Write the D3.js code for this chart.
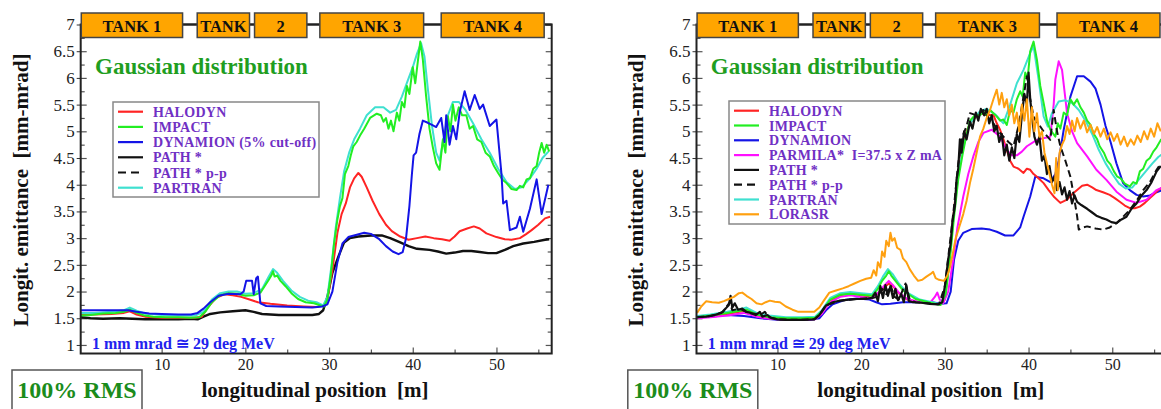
<!DOCTYPE html>
<html><head><meta charset="utf-8">
<script src="https://cdn.jsdelivr.net/npm/d3@7"></script>
<style>
body{margin:0;background:#fff}
svg{display:block}
text{font-family:"Liberation Serif","Times New Roman",serif}
</style>
</head><body><svg id="c" width="1161" height="409"></svg>
<script>
// ---------- data ----------
const X_TICKS = [10, 20, 30, 40, 50];
const X_MINOR = [5, 15, 25, 35, 45, 55];
const Y_TICKS = [1, 1.5, 2, 2.5, 3, 3.5, 4, 4.5, 5, 5.5, 6, 6.5, 7];
const Y_MINOR = [1.25, 1.75, 2.25, 2.75, 3.25, 3.75, 4.25, 4.75, 5.25, 5.75, 6.25, 6.75];
const TANK_LABELS = ["TANK 1", "TANK", "2", "TANK 3", "TANK 4"];
const TANK_START = [0.4, 14.25, 21.1, 28.9, 43.4];
const TANK_END = [12.5, 20.5, 27.35, 41.3, 55.7];

const LEFT_NAMES = ["HALODYN", "IMPACT", "DYNAMION (5% cut-off)", "PATH *", "PATH * p-p", "PARTRAN"];
const RIGHT_NAMES = ["HALODYN", "IMPACT", "DYNAMION", "PARMILA*  I=37.5 x Z mA", "PATH *", "PATH * p-p", "PARTRAN", "LORASR"];

const L_HALODYN = [[0.3,1.56],[2,1.57],[4,1.58],[5.5,1.6],[6.2,1.63],[7,1.57],[8,1.53],[10,1.51],[12,1.51],[14,1.51],[14.8,1.53],[15.5,1.7],[16.5,1.88],[17.5,1.95],[18.5,1.93],[19.5,1.9],[20.5,1.85],[21.5,1.8],[23,1.77],[25,1.74],[27,1.72],[28.5,1.71],[29.3,1.74],[29.8,1.85],[30.4,2.4],[31,3.1],[31.5,3.45],[32,3.65],[32.5,3.95],[33,4.12],[33.5,4.22],[33.9,4.15],[34.5,3.95],[35.2,3.7],[36,3.45],[36.8,3.25],[37.5,3.13],[38.5,3.03],[39.5,2.97],[40.5,3.0],[41.5,3.03],[42.5,3.0],[43.5,2.98],[44.4,2.95],[45,3.03],[45.6,3.13],[46.5,3.18],[47.3,3.22],[48,3.18],[48.8,3.09],[50,3.02],[51,2.98],[51.8,2.97],[52.8,3.0],[53.5,3.07],[54.2,3.15],[55,3.25],[55.8,3.37],[56.4,3.4]];
const L_IMPACT = [[0.3,1.55],[1.5,1.56],[3,1.59],[4.5,1.6],[5.5,1.62],[6.2,1.66],[7,1.6],[8,1.55],[9,1.53],[10.5,1.52],[12,1.52],[13.5,1.51],[14.5,1.52],[15.2,1.62],[16,1.8],[17,1.93],[18,1.97],[19,1.96],[20,1.92],[21,1.93],[21.8,1.98],[22.3,2.1],[22.8,2.22],[23.1,2.3],[23.3,2.38],[23.5,2.28],[23.8,2.3],[24.2,2.2],[24.8,2.1],[25.5,1.97],[26.3,1.86],[27.2,1.8],[28.2,1.78],[29,1.74],[29.4,1.72],[29.8,1.85],[30.2,2.3],[30.6,2.9],[31,3.35],[31.3,3.6],[31.6,3.75],[31.9,4.2],[32.3,4.35],[32.6,4.55],[32.9,4.72],[33.3,4.8],[33.7,4.92],[34.2,5.05],[34.9,5.25],[35.7,5.33],[36.2,5.3],[36.5,5.18],[36.8,5.25],[37.1,5.05],[37.4,5.2],[37.7,5.0],[38.1,5.35],[38.4,5.2],[38.7,5.55],[39.0,5.45],[39.3,5.85],[39.6,5.7],[40.0,6.2],[40.3,5.9],[40.6,6.3],[40.9,6.68],[41.2,6.35],[41.6,5.65],[42.0,5.05],[42.4,4.7],[42.8,4.4],[43.2,4.28],[43.6,4.85],[43.9,4.6],[44.2,5.28],[44.5,5.0],[44.8,5.5],[45.1,5.2],[45.5,5.45],[45.9,5.3],[46.4,5.3],[46.8,5.05],[47.2,5.1],[47.7,4.85],[48.2,4.8],[48.7,4.6],[49.2,4.53],[49.7,4.35],[50.2,4.22],[50.7,4.1],[51.2,4.03],[51.8,3.92],[52.4,3.9],[52.8,3.98],[53.2,3.95],[53.6,4.1],[54.0,4.12],[54.4,4.3],[54.8,4.35],[55.1,4.6],[55.4,4.78],[55.7,4.6],[56.0,4.75],[56.3,4.62]];
const L_DYNAMION = [[0.3,1.65],[2,1.65],[4,1.65],[6,1.65],[7,1.62],[8.5,1.59],[10,1.58],[12,1.57],[13.5,1.57],[14.3,1.6],[15,1.68],[15.8,1.8],[16.8,1.92],[18,1.96],[19.4,1.95],[19.8,2.0],[20.1,2.2],[20.8,2.2],[21.0,1.95],[21.3,2.25],[21.5,2.28],[21.8,1.78],[22.5,1.73],[24,1.72],[26,1.71],[28,1.7],[29.2,1.72],[29.8,1.76],[30.4,2.0],[31,2.55],[31.6,2.9],[32.3,3.02],[33.2,3.06],[34.2,3.1],[35,3.08],[36,2.98],[36.8,2.85],[37.6,2.75],[38.3,2.7],[38.8,2.74],[39.2,3.0],[39.6,3.6],[39.9,4.2],[40.1,4.55],[40.4,4.6],[40.8,4.95],[41.2,5.2],[41.8,5.16],[42.3,5.12],[42.8,5.08],[43.4,5.25],[43.8,4.8],[44.0,5.3],[44.4,4.75],[44.8,5.1],[45.2,4.85],[45.6,5.35],[46.2,5.75],[46.8,5.4],[47.4,5.68],[48.0,5.42],[48.4,5.5],[49.2,5.1],[50.0,5.22],[50.6,4.2],[50.8,3.65],[51.2,3.7],[51.6,3.15],[52.4,3.2],[52.8,3.4],[53.2,3.12],[54.0,3.55],[54.8,4.1],[55.4,3.45],[56.2,4.0]];
const L_PATH = [[0.3,1.52],[1.5,1.5],[3,1.49],[5,1.5],[6.5,1.49],[8,1.48],[10,1.48],[12,1.48],[13.5,1.49],[14.3,1.48],[15,1.53],[15.8,1.58],[17,1.61],[18.5,1.63],[20,1.65],[21,1.62],[22,1.58],[24,1.56],[26,1.56],[28,1.56],[28.8,1.58],[29.3,1.65],[29.8,1.9],[30.4,2.35],[31.1,2.65],[31.8,2.92],[32.5,3.0],[33.5,3.03],[35,3.05],[36.3,3.05],[37.3,3.0],[38.5,2.92],[39.5,2.85],[40.5,2.8],[42,2.78],[43,2.75],[44,2.71],[45,2.73],[46,2.76],[47,2.76],[48,2.74],[49,2.72],[50,2.72],[51,2.78],[52,2.85],[53.2,2.9],[54.5,2.93],[55.8,2.97],[56.3,2.98]];
const L_PARTRAN = [[0.3,1.6],[2,1.6],[4,1.62],[5.5,1.65],[6.2,1.7],[7,1.64],[8,1.59],[10,1.56],[12,1.55],[14,1.55],[15,1.62],[16,1.85],[17,1.97],[18,2.0],[19,2.0],[20,1.96],[21,1.97],[22,2.05],[22.8,2.28],[23.3,2.42],[23.8,2.35],[24.5,2.2],[25.5,2.02],[26.5,1.9],[27.5,1.83],[28.5,1.8],[29.3,1.74],[29.8,1.9],[30.3,2.5],[30.8,3.2],[31.3,3.75],[31.8,4.25],[32.4,4.6],[33,4.85],[33.7,5.05],[34.5,5.3],[35.5,5.45],[36.5,5.45],[37.3,5.35],[38,5.4],[38.7,5.65],[39.4,5.95],[40,6.2],[40.5,6.45],[41,6.65],[41.4,6.4],[41.8,5.8],[42.3,5.1],[42.8,4.6],[43.2,4.45],[43.6,4.8],[44.2,5.3],[44.8,5.55],[45.5,5.55],[46.3,5.4],[47.2,5.15],[48.2,4.85],[49.2,4.6],[50.2,4.3],[51.2,4.05],[52.2,3.92],[53,3.95],[54,4.12],[54.8,4.3],[55.5,4.5],[56.2,4.62]];

const R_HALODYN = [[0.4,1.52],[2,1.54],[4,1.58],[5.5,1.62],[6.3,1.64],[7.5,1.55],[9,1.5],[11,1.48],[13,1.48],[14.5,1.49],[15.3,1.6],[16.2,1.82],[17.5,1.93],[18.7,1.97],[20,1.93],[21.3,1.88],[22.2,1.98],[22.8,2.08],[23.3,2.15],[23.8,2.1],[24.5,1.97],[25.5,1.85],[27,1.8],[28.5,1.78],[29.5,1.76],[30,1.85],[30.5,2.5],[31,3.4],[31.5,4.1],[32,4.6],[32.5,4.95],[33,5.15],[33.6,5.25],[34.2,5.34],[35,5.3],[35.8,5.31],[36.2,5.15],[36.6,5.03],[37.0,4.85],[37.4,4.65],[37.8,4.45],[38.2,4.34],[38.8,4.3],[39.4,4.22],[39.8,4.3],[40.2,4.28],[40.6,4.2],[41.0,4.15],[41.8,4.03],[42.4,3.9],[43.0,3.78],[43.8,3.66],[44.6,3.72],[45.2,3.82],[45.8,3.9],[46.4,3.98],[47.0,4.0],[47.6,3.95],[48.1,3.9],[48.9,3.86],[49.7,3.81],[50.3,3.75],[50.9,3.68],[51.5,3.61],[52.1,3.56],[52.7,3.56],[53.3,3.59],[53.9,3.66],[54.5,3.75],[55.0,3.82],[55.5,3.9],[56,3.95]];
const R_IMPACT = [[0.4,1.52],[2,1.55],[4,1.6],[5.5,1.64],[6.3,1.66],[7.5,1.57],[9,1.52],[11,1.5],[13,1.5],[14.5,1.51],[15.3,1.62],[16.3,1.85],[17.5,1.94],[18.7,1.96],[20,1.94],[21.3,1.92],[22,2.05],[22.5,2.2],[23,2.3],[23.3,2.38],[23.6,2.3],[24,2.22],[25,2.02],[26.5,1.86],[28,1.8],[29.5,1.75],[30.1,1.95],[30.6,2.6],[31.1,3.4],[31.6,4.1],[32.1,4.55],[32.6,4.95],[33,5.2],[33.6,5.3],[34.2,5.3],[34.6,5.36],[35.0,5.3],[35.4,5.4],[35.8,5.34],[36.2,5.28],[36.6,5.2],[37.0,5.22],[37.4,5.12],[37.8,5.4],[38.2,5.35],[38.6,5.6],[39.0,5.75],[39.3,5.65],[39.6,6.1],[39.9,6.0],[40.2,6.5],[40.6,6.68],[41.0,6.34],[41.4,5.85],[41.8,5.53],[42.2,5.2],[42.6,5.03],[43.2,4.9],[43.5,5.15],[43.8,5.05],[44.2,5.35],[44.6,5.3],[45.0,5.6],[45.4,5.5],[45.8,5.6],[46.2,5.45],[46.6,5.35],[47.0,5.2],[47.4,5.12],[47.8,4.95],[48.2,4.85],[48.5,4.72],[49.0,4.6],[49.4,4.45],[49.8,4.38],[50.2,4.25],[50.6,4.15],[51.0,4.12],[51.5,4.02],[52.1,3.97],[52.5,4.05],[52.9,4.02],[53.3,4.25],[53.7,4.3],[54.1,4.45],[54.5,4.5],[54.9,4.62],[55.3,4.7],[55.8,4.84],[56.3,4.9]];
const R_DYNAMION = [[0.4,1.52],[2,1.53],[4,1.56],[6,1.54],[8,1.5],[10,1.47],[12,1.47],[14,1.47],[15,1.5],[15.8,1.65],[16.6,1.76],[18,1.84],[19.5,1.87],[21,1.85],[21.8,1.8],[22.5,1.76],[23.5,1.77],[25,1.8],[27,1.8],[28.5,1.8],[29.5,1.77],[30.2,1.78],[30.7,2.0],[31.1,2.6],[31.6,2.95],[32.2,3.1],[33.2,3.17],[34.4,3.18],[35.4,3.16],[36.2,3.12],[37.2,3.05],[38.2,3.05],[39.0,3.2],[39.4,3.4],[40.2,3.78],[40.8,4.15],[41.8,4.12],[42.6,4.05],[43.2,4.2],[43.6,4.45],[44.2,5.03],[45.0,5.65],[45.8,6.03],[46.6,6.03],[47.4,5.93],[48.0,5.8],[48.6,5.5],[49.2,5.1],[49.8,4.8],[50.5,4.4],[51.3,4.03],[52.1,3.9],[52.9,3.81],[53.7,3.78],[54.5,3.8],[55.3,3.86],[56,3.9]];
const R_PARMILA = [[0.4,1.5],[2,1.52],[4,1.55],[6,1.6],[7.5,1.53],[9,1.49],[11,1.47],[13,1.47],[14.5,1.48],[15.3,1.58],[16.3,1.8],[17.5,1.9],[18.7,1.93],[20,1.9],[21.3,1.87],[22.2,2.0],[22.8,2.12],[23.3,2.2],[23.8,2.12],[24.5,1.98],[25.5,1.86],[27,1.8],[28.3,1.8],[28.8,1.9],[29.1,1.98],[29.4,1.85],[29.8,1.78],[30.4,2.0],[31.0,2.6],[31.5,3.2],[32.2,3.78],[32.8,4.2],[33.4,4.53],[34.0,4.8],[34.6,4.97],[35.6,5.03],[36.6,4.9],[37.4,4.65],[38.0,4.55],[38.6,4.55],[39.2,4.62],[39.8,4.72],[41.0,4.84],[42.0,4.88],[42.6,4.9],[43.0,5.5],[43.2,5.97],[43.6,6.31],[44.0,6.15],[44.6,5.34],[45.2,5.0],[45.8,4.78],[47.0,4.53],[48.1,4.28],[49.3,4.09],[50.5,3.87],[51.7,3.72],[52.9,3.66],[54.1,3.72],[55.3,3.9],[56,3.95]];
const R_PATH = [[0.4,1.52],[1.5,1.53],[2.5,1.56],[3.3,1.6],[3.8,1.68],[4.2,1.75],[4.4,1.92],[4.6,1.7],[4.9,1.78],[5.3,1.66],[5.8,1.68],[6.3,1.62],[6.8,1.6],[7.4,1.56],[7.9,1.62],[8.2,1.53],[8.8,1.56],[9.3,1.5],[10,1.48],[11,1.47],[12,1.47],[13,1.47],[14.4,1.48],[15,1.56],[15.8,1.74],[16.6,1.8],[17.5,1.83],[18.5,1.85],[19.5,1.86],[20.5,1.86],[21.3,1.88],[21.7,1.98],[22.0,1.82],[22.3,2.1],[22.6,1.88],[22.9,2.12],[23.2,1.92],[23.5,2.1],[23.8,1.88],[24.1,2.05],[24.4,1.84],[24.8,1.95],[25.1,1.8],[25.4,2.12],[25.7,1.82],[26.2,1.8],[27.2,1.79],[28.2,1.77],[29.2,1.76],[29.7,1.8],[30.1,2.2],[30.4,2.6],[30.7,2.9],[30.9,3.3],[31.2,3.6],[31.4,4.1],[31.6,4.3],[31.8,4.85],[32.0,4.6],[32.3,5.0],[32.6,4.85],[33.0,5.18],[33.3,5.05],[33.7,5.35],[34.0,5.2],[34.3,5.42],[34.7,5.3],[35.0,5.42],[35.3,5.15],[35.6,5.3],[35.9,5.0],[36.2,5.1],[36.5,4.8],[36.8,4.95],[37.1,4.55],[37.4,4.75],[37.7,4.45],[38.0,4.7],[38.3,4.5],[38.6,4.95],[38.9,4.8],[39.2,5.3],[39.5,5.7],[39.8,5.5],[40.0,6.1],[40.2,5.6],[40.4,5.3],[40.7,4.9],[41.0,4.75],[41.3,4.9],[41.6,4.45],[41.9,4.55],[42.2,4.2],[42.5,4.35],[42.8,4.05],[43.1,4.15],[43.4,3.9],[43.7,4.05],[44.0,3.82],[44.3,3.95],[44.6,3.72],[44.9,3.88],[45.2,3.65],[45.5,3.8],[45.8,3.68],[46.3,3.62],[47.0,3.55],[47.6,3.48],[48.1,3.42],[48.7,3.38],[49.3,3.35],[49.9,3.3],[50.5,3.28],[51.1,3.35],[51.7,3.4],[52.3,3.55],[52.9,3.65],[53.5,3.8],[54.1,3.9],[54.7,4.05],[55.3,4.25],[55.8,4.35]];
const R_PATH_PP = [[0.4,1.52],[2,1.54],[3.5,1.62],[4.3,1.8],[4.6,1.65],[5.5,1.68],[6.5,1.6],[8,1.57],[8.5,1.62],[9,1.52],[10,1.48],[12,1.47],[14.4,1.48],[15,1.56],[15.8,1.74],[17.5,1.83],[19.5,1.86],[21.3,1.88],[22,1.9],[22.5,2.05],[23,1.95],[23.5,2.12],[24,1.9],[24.5,1.85],[25.3,2.15],[25.8,1.85],[26.5,1.8],[28,1.78],[29.3,1.76],[30,2.1],[30.6,2.9],[31.1,3.6],[31.6,4.4],[32.1,4.9],[32.6,5.1],[33.0,5.34],[33.8,5.3],[34.6,5.4],[35.2,5.25],[35.8,5.15],[36.4,5.0],[37.0,4.9],[37.6,4.8],[38.2,4.72],[38.8,5.1],[39.4,5.65],[39.8,6.03],[40.2,5.6],[40.6,5.28],[41.0,5.15],[41.4,5.09],[42.0,4.95],[42.6,4.84],[43.0,5.4],[43.4,5.0],[43.8,4.72],[44.4,4.45],[45.0,4.15],[45.4,3.8],[45.8,3.41],[46.0,3.16],[46.5,3.2],[47.0,3.22],[48.0,3.18],[48.9,3.16],[49.7,3.2],[50.5,3.28],[51.3,3.4],[52.1,3.53],[52.9,3.7],[53.7,3.9],[54.5,4.05],[55.3,4.28],[55.8,4.4]];
const R_PARTRAN = [[0.4,1.54],[2,1.57],[4,1.62],[5.5,1.67],[6.3,1.7],[7.5,1.6],[9,1.55],[11,1.52],[13,1.52],[14.5,1.53],[15.3,1.65],[16.3,1.88],[17.5,1.97],[18.7,1.99],[20,1.97],[21.3,1.95],[22,2.1],[22.6,2.28],[23.2,2.42],[23.8,2.32],[24.5,2.15],[25.5,1.98],[27,1.85],[28.5,1.8],[29.5,1.76],[30.1,2.0],[30.6,2.7],[31.1,3.5],[31.6,4.2],[32.2,4.7],[33,5.15],[34.2,5.38],[35,5.42],[36,5.32],[37,5.15],[37.8,5.5],[38.6,5.9],[39.4,6.15],[40.2,6.47],[40.6,6.59],[41.2,5.97],[41.8,5.28],[42.3,5.09],[42.8,5.34],[43.6,5.56],[44.4,5.58],[45.2,5.53],[46.0,5.4],[46.8,5.2],[47.6,4.95],[48.4,4.65],[49.2,4.4],[50.0,4.2],[50.8,4.02],[51.6,3.93],[52.4,3.95],[53.2,4.1],[54.0,4.25],[54.8,4.4],[55.5,4.52],[56.2,4.6]];
const R_LORASR = [[0.4,1.6],[0.9,1.72],[1.5,1.82],[2.2,1.8],[3.0,1.79],[3.6,1.82],[4.2,1.86],[4.8,1.9],[5.4,1.97],[5.8,1.98],[6.3,1.92],[6.9,1.86],[7.5,1.78],[8.1,1.76],[8.6,1.8],[9.1,1.83],[9.7,1.81],[10.3,1.8],[11,1.72],[11.8,1.66],[12.5,1.62],[13.5,1.62],[14.4,1.62],[15,1.7],[15.5,1.82],[16.2,1.98],[17,2.02],[17.8,2.06],[18.5,2.1],[19.2,2.15],[19.9,2.2],[20.6,2.24],[21.2,2.26],[21.5,2.4],[21.8,2.3],[22.0,2.55],[22.3,2.45],[22.5,2.75],[22.8,2.65],[23.0,2.95],[23.3,2.85],[23.5,3.1],[23.7,2.95],[24.0,3.0],[24.3,2.82],[24.7,2.78],[25.0,2.62],[25.4,2.55],[25.8,2.42],[26.3,2.3],[26.8,2.2],[27.3,2.22],[27.8,2.28],[28.3,2.33],[28.6,2.37],[28.9,2.25],[29.3,2.22],[29.9,2.2],[30.3,2.3],[30.6,2.45],[31.0,2.75],[31.3,3.0],[31.7,3.2],[32.2,3.45],[32.6,3.7],[33.0,4.03],[33.4,4.3],[33.8,4.6],[34.2,4.9],[34.6,5.05],[35.0,5.25],[35.4,5.4],[35.8,5.6],[36.2,5.78],[36.5,5.5],[36.8,5.72],[37.1,5.45],[37.4,5.6],[37.7,5.3],[38.0,5.5],[38.3,5.15],[38.6,5.35],[38.9,5.0],[39.2,5.5],[39.5,5.2],[39.8,5.6],[40.1,4.9],[40.4,5.45],[40.7,5.0],[41.0,5.34],[41.3,4.9],[41.6,5.0],[41.9,4.6],[42.2,4.4],[42.5,4.2],[42.8,4.0],[43.1,3.84],[43.3,4.5],[43.5,3.9],[43.7,4.6],[44.0,4.75],[44.3,4.85],[44.6,5.1],[44.9,4.95],[45.2,5.2],[45.5,5.0],[45.8,5.25],[46.2,5.05],[46.6,5.2],[47.0,4.98],[47.4,5.12],[47.8,4.95],[48.2,5.08],[48.6,4.9],[49.0,5.05],[49.4,4.85],[49.8,4.98],[50.2,4.82],[50.6,4.95],[51.0,4.75],[51.4,4.9],[51.8,4.72],[52.2,4.85],[52.6,4.75],[53.0,4.92],[53.4,4.8],[53.8,5.0],[54.2,4.85],[54.6,5.05],[55.0,4.9],[55.4,5.15],[55.8,5.0]];

// ---------- styles ----------
const COLORS = {red:"#ff2424", green:"#22ee22", blue:"#1414e6", black:"#111111", cyan:"#3fe0d0", magenta:"#ff10ff", orange:"#ffa010"};
const LEFT_LEGEND_STYLE = [["red",0],["green",0],["blue",0],["black",0],["black",1],["cyan",0]];
const RIGHT_LEGEND_STYLE = [["red",0],["green",0],["blue",0],["magenta",0],["black",0],["black",1],["cyan",0],["orange",0]];
const SERIF = "Liberation Serif";

const svg = d3.select("#c");
svg.append("rect").attr("width",1161).attr("height",409).attr("fill","#fff");

function drawPanel(off, id, curves, names, legStyle, legBox) {
  const x = d3.scaleLinear().domain([0.33, 56.6]).range([80.7 + off, 551.7 + off]);
  const y = d3.scaleLinear().domain([0.84, 7]).range([353.5, 24.5]);
  const [x0, x1] = x.range(), [yb, yt] = y.range();
  const g = svg.append("g");

  // axis labels
  g.append("text").attr("transform", `translate(${27.5 + off},190) rotate(-90)`)
    .attr("text-anchor","middle").attr("font-size",21).attr("font-weight","bold").attr("font-family",SERIF)
    .style("white-space","pre").attr("fill","#111").text("Longit. emittance  [mm-mrad]");
  g.append("text").attr("x", 315 + off).attr("y", 397).attr("text-anchor","middle").attr("font-family",SERIF)
    .attr("font-size",21).attr("font-weight","bold").style("white-space","pre").attr("fill","#111")
    .text("longitudinal position  [m]");

  // y tick labels
  const ya = g.append("g").attr("transform",`translate(${x0},0)`)
    .call(d3.axisLeft(y).tickValues(Y_TICKS).tickSize(4).tickPadding(2).tickFormat(d3.format("~g")));
  ya.select(".domain").remove();
  ya.selectAll("line").attr("stroke","#333");
  ya.selectAll("text").attr("font-size",17).attr("fill","#222").attr("font-family",SERIF);
  // x tick labels
  const xa = g.append("g").attr("transform",`translate(0,${yb})`)
    .call(d3.axisBottom(x).tickValues(X_TICKS).tickSize(0).tickPadding(5).tickFormat(d3.format("d")));
  xa.select(".domain").remove();
  xa.selectAll("text").attr("font-size",16).attr("fill","#222").attr("font-family",SERIF);

  // inner ticks
  const tickGroups = [
    [d3.axisRight(y).tickValues(Y_TICKS).tickSize(6), `translate(${x0},0)`],
    [d3.axisRight(y).tickValues(Y_MINOR).tickSize(4), `translate(${x0},0)`],
    [d3.axisLeft(y).tickValues(Y_TICKS).tickSize(6), `translate(${x1},0)`],
    [d3.axisLeft(y).tickValues(Y_MINOR).tickSize(4), `translate(${x1},0)`],
    [d3.axisTop(x).tickValues(X_TICKS).tickSize(6), `translate(0,${yb})`],
    [d3.axisTop(x).tickValues(X_MINOR).tickSize(4), `translate(0,${yb})`]
  ];
  tickGroups.forEach(([ax, tr]) => {
    const t = g.append("g").attr("transform", tr).call(ax.tickFormat(""));
    t.select(".domain").remove();
    t.selectAll("line").attr("stroke","#555").attr("stroke-width",1.2);
  });

  // clip + curves
  svg.append("clipPath").attr("id", id).append("rect")
    .attr("x", x0).attr("y", yt - 2).attr("width", x1 - x0).attr("height", yb - yt + 2);
  const line = d3.line().x(d => x(d[0])).y(d => y(d[1]));
  const cg = g.append("g").attr("clip-path", `url(#${id})`);
  curves.forEach(c => {
    cg.append("path").datum(c.data).attr("d", line).attr("fill","none")
      .attr("stroke", COLORS[c.color]).attr("stroke-width", c.w || 2)
      .attr("stroke-linejoin","round")
      .attr("stroke-dasharray", c.dash ? "7,4" : null);
  });

  // frame
  g.append("rect").attr("x", x0).attr("y", yt).attr("width", x1 - x0).attr("height", yb - yt)
    .attr("fill","none").attr("stroke","#222").attr("stroke-width",2);

  // tanks
  const ty = y(7);
  g.append("line").attr("x1", x(TANK_START[0])).attr("x2", x1).attr("y1", ty).attr("y2", ty)
    .attr("stroke","#222").attr("stroke-width",2);
  TANK_LABELS.forEach((lab, i) => {
    const a = x(TANK_START[i]), b = x(TANK_END[i]);
    g.append("rect").attr("x", a).attr("y", ty - 11.5).attr("width", b - a).attr("height", 24.5)
      .attr("fill","#ffa500").attr("stroke","#444").attr("stroke-width",1.5);
    g.append("text").attr("x", (a + b) / 2).attr("y", ty + 7).attr("text-anchor","middle").attr("font-family",SERIF)
      .attr("font-size",16.5).attr("font-weight","bold").attr("fill","#111").text(lab);
  });

  // annotations
  g.append("text").attr("x", 95 + off).attr("y", 74).attr("font-size",23).attr("font-weight","bold").attr("font-family",SERIF)
    .attr("fill","#1f9e1f").text("Gaussian distribution");
  g.append("text").attr("x", 92 + off).attr("y", 349).attr("font-size",16).attr("font-weight","bold").attr("font-family",SERIF)
    .attr("fill","#2222ee").text("1 mm mrad \u2245 29 deg MeV");
  g.append("rect").attr("x", 12 + off).attr("y", 370).attr("width", 130).attr("height", 42)
    .attr("fill","#fff").attr("stroke","#555").attr("stroke-width",1.5);
  g.append("text").attr("x", 77 + off).attr("y", 398).attr("text-anchor","middle").attr("font-size",24).attr("font-family",SERIF)
    .attr("font-weight","bold").attr("fill","#1b8c1b").text("100% RMS");

  // legend
  const [lx, ly, lw, lh, step, first] = legBox;
  g.append("rect").attr("x", lx).attr("y", ly).attr("width", lw).attr("height", lh)
    .attr("fill","#fff").attr("stroke","#888").attr("stroke-width",1.5);
  names.forEach((n, i) => {
    const yy = first + i * step;
    const [col, dash] = legStyle[i];
    g.append("line").attr("x1", lx + 5).attr("x2", lx + 30).attr("y1", yy).attr("y2", yy)
      .attr("stroke", COLORS[col]).attr("stroke-width", 2.2).attr("stroke-dasharray", dash ? "8,5" : null);
    g.append("text").attr("x", lx + 40).attr("y", yy + 5).attr("font-size",14).attr("font-weight","bold").attr("font-family",SERIF)
      .attr("letter-spacing", 0.3).style("white-space","pre").attr("fill","#7030c4").text(n);
  });
}

drawPanel(0, "clipL", [
  {data:L_PATH, color:"black", w:2.4},
  {data:L_HALODYN, color:"red"},
  {data:L_PARTRAN, color:"cyan"},
  {data:L_IMPACT, color:"green"},
  {data:L_DYNAMION, color:"blue"}
], LEFT_NAMES, LEFT_LEGEND_STYLE, [113, 102, 206, 95, 15.2, 111.7]);

drawPanel(615.8, "clipR", [
  {data:R_DYNAMION, color:"blue"},
  {data:R_HALODYN, color:"red"},
  {data:R_PARMILA, color:"magenta"},
  {data:R_PARTRAN, color:"cyan"},
  {data:R_IMPACT, color:"green"},
  {data:R_PATH_PP, color:"black", dash:1},
  {data:R_PATH, color:"black", w:2.2},
  {data:R_LORASR, color:"orange"}
], RIGHT_NAMES, RIGHT_LEGEND_STYLE, [729, 101, 216, 123, 14.8, 110.7]);
</script></body></html>
